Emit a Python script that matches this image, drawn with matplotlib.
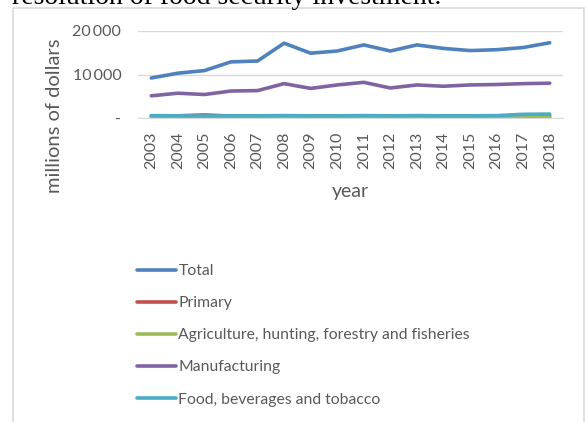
import matplotlib
matplotlib.use("Agg")
import matplotlib.pyplot as plt
from matplotlib.patches import Rectangle

years = [str(y) for y in range(2003, 2019)]
total = [9200, 10300, 10900, 12900, 13100, 17200, 14900, 15400, 16800, 15400,
         16800, 16000, 15500, 15700, 16200, 17300]
primary = [450, 500, 700, 450, 400, 450, 400, 450, 450, 400,
           450, 400, 400, 400, 400, 400]
agriculture = [100, 100, 120, 100, 100, 110, 100, 100, 110, 100,
               100, 100, 100, 100, 110, 110]
manufacturing = [5100, 5700, 5400, 6200, 6300, 7900, 6800, 7600, 8200, 6900,
                 7600, 7300, 7600, 7700, 7900, 8000]
food = [550, 500, 450, 500, 500, 550, 500, 500, 550, 500,
        550, 500, 500, 550, 850, 900]

series = [
    ("Total", total, "#4F81BD"),
    ("Primary", primary, "#C0504D"),
    ("Agriculture, hunting, forestry and fisheries", agriculture, "#9BBB59"),
    ("Manufacturing", manufacturing, "#8064A2"),
    ("Food, beverages and tobacco", food, "#4BACC6"),
]

txt = "#595959"
font = "Lato"

fig = plt.figure(figsize=(5.88, 4.22), dpi=100)
fig.patch.set_facecolor("white")

# chart frame and the clipped caption line above it
fig.patches.append(Rectangle((13 / 588, -0.1), 571 / 588, 1.1 - 8 / 422,
                             transform=fig.transFigure, fill=False,
                             edgecolor="#D9D9D9", linewidth=1.2))
fig.text(12 / 588, 1 - 4 / 422, "resolution of food security investment.",
         family="Liberation Serif", fontsize=20, color="black",
         ha="left", va="baseline")

ax = fig.add_axes([138 / 588, 1 - 118 / 422, 425 / 588, 87 / 422])
x = list(range(len(years)))
for name, vals, col in series:
    ax.plot(x, vals, color=col, linewidth=2.6, label=name,
            solid_capstyle="round", solid_joinstyle="round")

ax.set_xlim(-0.5, len(years) - 0.5)
ax.set_ylim(0, 20000)
ax.set_yticks([0, 10000, 20000])
ax.set_yticklabels(["-", "10\u2009000", "20\u2009000"])
ax.set_xticks(x)
ax.set_xticklabels(years, rotation=90)
ax.grid(axis="y", color="#D9D9D9", linewidth=1.0)
ax.set_axisbelow(True)
for s in ["top", "right", "left"]:
    ax.spines[s].set_visible(False)
ax.spines["bottom"].set_color("#D9D9D9")
ax.tick_params(length=0, labelsize=11.5, colors=txt)
ax.tick_params(axis="x", pad=10)
ax.tick_params(axis="y", pad=12)
for lab in ax.get_xticklabels() + ax.get_yticklabels():
    lab.set_family(font)

ax.set_ylabel("millions of dollars", family=font, fontsize=14.5, color=txt,
              va="center")
ax.yaxis.set_label_coords(-0.197, 0.03)
ax.set_xlabel("year", family=font, fontsize=14, color=txt, va="center")
ax.xaxis.set_label_coords(0.499, -0.84)

handles, labels = ax.get_legend_handles_labels()
fig.legend(handles, labels, loc="upper left",
           bbox_to_anchor=(129 / 588, 1 - 256.5 / 422), frameon=False,
           prop={"family": font, "size": 11.3}, labelcolor=txt,
           handlelength=2.5, handletextpad=0.15, labelspacing=1.15,
           borderpad=0)

fig.savefig("out.png", dpi=100, facecolor="white")
